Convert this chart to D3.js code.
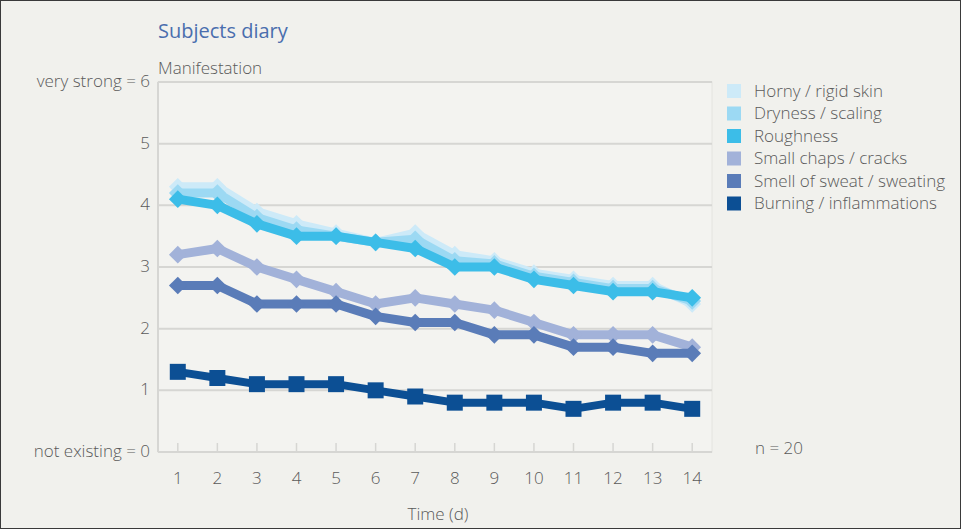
<!DOCTYPE html>
<html><head><meta charset="utf-8">
<script src="https://cdn.jsdelivr.net/npm/d3@7"></script>
<style>
html,body{margin:0;padding:0;background:#f1f1ed;}
svg{display:block;font-family:"Open Sans",sans-serif;}
</style></head>
<body>
<svg id="chart" width="961" height="529"></svg>
<script>
const days = [1,2,3,4,5,6,7,8,9,10,11,12,13,14];
const seriesNames = ["Horny / rigid skin","Dryness / scaling","Roughness","Small chaps / cracks","Smell of sweat / sweating","Burning / inflammations"];
const seriesColors = ["#cdeaf8","#9cd9f3","#3cbde8","#a2b2d9","#5a7cb8","#0c4f94"];
const seriesShapes = ["diamond","diamond","diamond","diamond","diamond","square"];
const horny     = [4.3,4.3,3.9,3.7,3.55,3.4,3.55,3.2,3.1,2.9,2.8,2.7,2.7,2.4];
const dryness   = [4.2,4.2,3.8,3.6,3.5,3.4,3.45,3.1,3.05,2.85,2.75,2.65,2.65,2.45];
const roughness = [4.1,4.0,3.7,3.5,3.5,3.4,3.3,3.0,3.0,2.8,2.7,2.6,2.6,2.5];
const chaps     = [3.2,3.3,3.0,2.8,2.6,2.4,2.5,2.4,2.3,2.1,1.9,1.9,1.9,1.7];
const sweat     = [2.7,2.7,2.4,2.4,2.4,2.2,2.1,2.1,1.9,1.9,1.7,1.7,1.6,1.6];
const burning   = [1.3,1.2,1.1,1.1,1.1,1.0,0.9,0.8,0.8,0.8,0.7,0.8,0.8,0.7];
const seriesValues = [horny,dryness,roughness,chaps,sweat,burning];
const yTicks = [0,1,2,3,4,5,6];
const yTickLabels = ["not existing = 0","1","2","3","4","5","very strong = 6"];

(function(){
const svg = d3.select("#chart");
const W = 961, H = 529;
const pL = 158, pR = 712, pT = 82, pB = 452;
const FS = 17, FW = 300, TC = "#5a5a5a";

svg.append("rect").attr("x",0.5).attr("y",0.5).attr("width",W-1).attr("height",H-1)
  .attr("fill","#f1f1ed").attr("stroke","#3a3a3a").attr("stroke-width",1);

svg.append("rect").attr("x",pL).attr("y",pT).attr("width",pR-pL).attr("height",pB-pT)
  .attr("fill","#f3f3f0").attr("stroke","#e4e4e0").attr("stroke-width",1);

const x = d3.scaleBand().domain(days).range([pL,pR]).padding(0);
const y = d3.scaleLinear().domain([0,6]).range([pB,pT]);
const cx = d => x(d) + x.bandwidth()/2;

svg.append("g").selectAll("line").data(yTicks.filter(t=>t>0)).join("line")
  .attr("x1",pL).attr("x2",pR).attr("y1",d=>y(d)).attr("y2",d=>y(d))
  .attr("stroke","#d6d6d3").attr("stroke-width",2);

svg.append("line").attr("x1",pL).attr("x2",pL).attr("y1",pT).attr("y2",pB)
  .attr("stroke","#d6d6d3").attr("stroke-width",2);

svg.append("g").selectAll("text").data(yTicks).join("text")
  .attr("x",150).attr("y",d=>y(d)).attr("dy","0.3em").attr("text-anchor","end")
  .attr("font-size",FS).attr("font-weight",FW).attr("fill",TC)
  .text((d,i)=>yTickLabels[i]);

const xAxis = d3.axisBottom(x).tickSize(0).tickPadding(0);
const gx = svg.append("g").attr("transform",`translate(0,${pB})`).call(xAxis);
gx.select(".domain").remove();
gx.selectAll("text").attr("y",26).attr("dy","0.35em").attr("font-size",FS)
  .attr("font-family","Open Sans").attr("font-weight",FW).attr("fill",TC);
svg.append("line").attr("x1",pL).attr("x2",pR).attr("y1",pB).attr("y2",pB)
  .attr("stroke","#d6d6d3").attr("stroke-width",2);
svg.append("g").selectAll("line").data(days).join("line")
  .attr("x1",d=>cx(d)).attr("x2",d=>cx(d)).attr("y1",pB).attr("y2",pB-9)
  .attr("stroke","#d6d6d3").attr("stroke-width",1.5);

const line = d3.line().x((d,i)=>cx(days[i])).y(d=>y(d));
seriesValues.forEach((vals,si)=>{
  const g = svg.append("g");
  const isSq = seriesShapes[si]==="square";
  g.append("path").datum(vals).attr("d",line).attr("fill","none")
    .attr("stroke",seriesColors[si]).attr("stroke-width",isSq?8:9)
    .attr("stroke-linejoin","round");
  const sym = d3.symbol().type(isSq?d3.symbolSquare:d3.symbolDiamond2).size(isSq?256:200);
  g.selectAll("path.m").data(vals).join("path").attr("class","m")
    .attr("transform",(d,i)=>`translate(${cx(days[i])},${y(d)})`)
    .attr("d",sym).attr("fill",seriesColors[si]);
});

svg.append("text").attr("x",158).attr("y",38).attr("font-size",20).attr("font-weight",400)
  .attr("fill","#4a6eae").text("Subjects diary");
svg.append("text").attr("x",158).attr("y",74).attr("font-size",FS).attr("font-weight",FW)
  .attr("fill",TC).text("Manifestation");
svg.append("text").attr("x",(pL+pR)/2+3).attr("y",520).attr("text-anchor","middle")
  .attr("font-size",FS).attr("font-weight",FW).attr("fill",TC).text("Time (d)");
svg.append("text").attr("x",755).attr("y",pB-4).attr("dy","0.35em")
  .attr("font-size",FS).attr("font-weight",FW).attr("fill",TC).text("n = 20");

const lg = svg.append("g").selectAll("g").data(seriesNames).join("g")
  .attr("transform",(d,i)=>`translate(727,${91+i*22.5})`);
lg.append("rect").attr("x",0).attr("y",-7).attr("width",14).attr("height",14)
  .attr("fill",(d,i)=>seriesColors[i]);
lg.append("text").attr("x",27).attr("y",0).attr("dy","0.35em")
  .attr("font-size",FS).attr("font-weight",FW).attr("fill",TC).text(d=>d);
})();
</script>
</body></html>
